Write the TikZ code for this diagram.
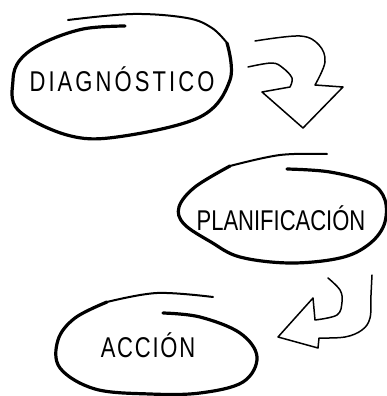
\documentclass[tikz,border=0pt]{standalone}
\usepackage{fontspec}
\newfontfamily\sketchfont{Liberation Sans}
\newcommand{\alto}[1]{\scalebox{1}[1.3]{#1}}
\tikzset{
  loop/.style={line width=3.2pt, line cap=round, line join=round},
  looptail/.style={line width=2pt, line cap=round, line join=round},
  flecha/.style={line width=1.5pt, line cap=round, line join=round},
  etiqueta/.style={font=\sketchfont\fontsize{22}{22}\selectfont, inner sep=0pt}
}
\begin{document}
\begin{tikzpicture}[x=1pt,y=-1pt]
  \useasboundingbox (0,0) rectangle (386,396);
  % diagnostico
  \draw[loop] plot[smooth, tension=0.6] coordinates {(125,26) (83,29) (43,43) (20,60) (13,80) (18,110) (67,135) (117,137) (200,117) (230,80) (227,43)};
  \draw[looptail] plot[smooth, tension=0.6] coordinates {(227,43) (212,28) (187,18) (133,14) (68,20)};
  \node[etiqueta] (diag) at (122,79) {\alto{\addfontfeature{LetterSpace=14}DIAGNÓSTICO}};
  % flecha 1
  \draw[flecha] plot[smooth, tension=0.6] coordinates {(255,41) (300,36) (319,45) (325,62) (315,85)}
    -- (343,87) -- (303,128) -- (262,92) -- (290,87)
    plot[smooth, tension=0.6] coordinates {(290,87) (292,78) (283,68) (272,63) (248,67)};
  % planificacion
  \draw[loop] plot[smooth, tension=0.6] coordinates {(287,169) (330,172) (370,183) (385,200) (384,225) (368,245) (340,258) (290,263) (240,257) (211,242) (184,224) (179,207) (195,187) (230,166)};
  \draw[looptail] plot[smooth, tension=0.6] coordinates {(230,166) (280,155) (327,154)};
  \node[etiqueta] (plan) at (281,218) {\alto{PLANIFICACIÓN}};
  % flecha 2
  \draw[flecha] plot[smooth, tension=0.6] coordinates {(328,278) (340,290) (342,302) (337,315) (315,320)}
    -- (313,298) -- (278,337) -- (318,348) -- (319,338)
    plot[smooth, tension=0.6] coordinates {(319,338) (345,337) (362,330) (370,318) (371,295) (372,275)};
  % accion
  \draw[loop] plot[smooth, tension=0.6] coordinates {(163,313) (200,317) (240,333) (257,357) (243,382) (200,393) (150,394) (95,389) (60,368) (58,340) (75,318) (107,302)};
  \draw[looptail] plot[smooth, tension=0.6] coordinates {(107,302) (157,293) (213,297)};
  \node[etiqueta] (accion) at (148,345) {\alto{\addfontfeature{LetterSpace=8}ACCIÓN}};
\end{tikzpicture}
\end{document}
